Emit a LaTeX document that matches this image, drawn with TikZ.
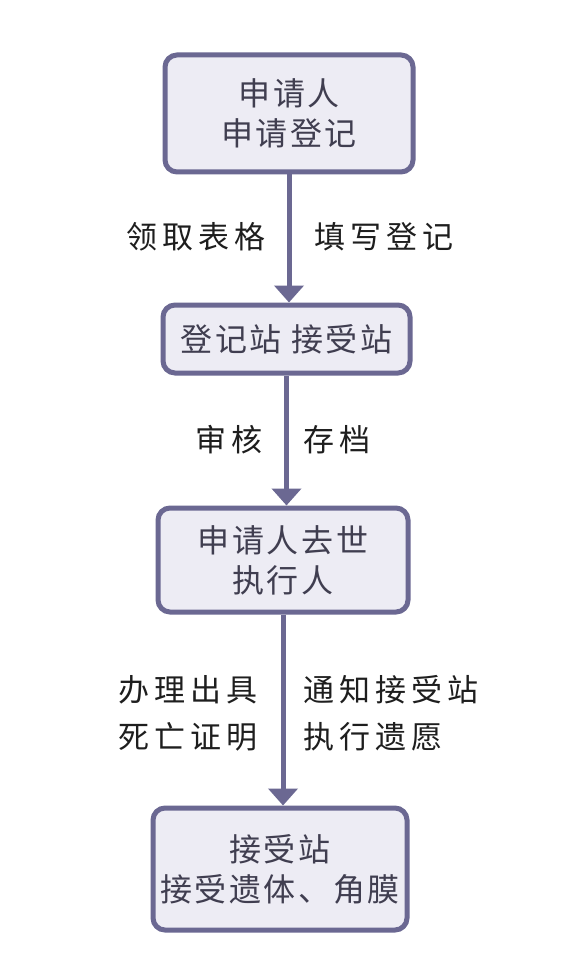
\documentclass[tikz,border=0pt]{standalone}
\usepackage{fontspec}
\setmainfont{Noto Sans CJK SC}
\newfontfamily\boxfont[LetterSpace=8]{Noto Sans CJK SC}
\newfontfamily\labfont[LetterSpace=16]{Noto Sans CJK SC}
\usetikzlibrary{arrows.meta}
\definecolor{bord}{HTML}{6B6892}
\definecolor{boxfill}{HTML}{EDECF4}
\definecolor{boxtext}{HTML}{403E50}
\definecolor{labtext}{HTML}{1E1E1E}
\tikzset{
  flowbox/.style={draw=bord, line width=5pt, fill=boxfill, rounded corners=12pt,
    inner sep=0pt, align=center, text=boxtext,
    font=\boxfont\fontsize{32}{40}\selectfont},
  lab/.style={inner sep=0pt, text=labtext, align=left,
    font=\labfont\fontsize{31}{47}\selectfont},
  flowarrow/.style={draw=bord, line width=5pt,
    -{Triangle[width=29pt,length=17pt]}}
}
\begin{document}
\begin{tikzpicture}[x=1pt,y=-1pt]
\useasboundingbox[fill=white] (0,0) rectangle (582,957);
\node[flowbox, minimum width=248pt, minimum height=117pt] (b1) at (289,113.5) {申请人\\申请登记};
\node[flowbox, minimum width=247pt, minimum height=68pt] (b2) at (286.5,339) {登记站 接受站};
\node[flowbox, minimum width=250pt, minimum height=104pt] (b3) at (283,560) {申请人去世\\执行人};
\node[flowbox, minimum width=254pt, minimum height=122pt] (b4) at (280,869) {接受站\\接受遗体、角膜};
\draw[flowarrow] (b1.south) -- (b1.south |- b2.north);
\draw[flowarrow] (b2.south) -- (b2.south |- b3.north);
\draw[flowarrow] (b3.south) -- (b3.south |- b4.north);
\node[lab, anchor=east] (l1) at (266,237) {领取表格};
\node[lab, anchor=west] (r1) at (314,237) {填写登记};
\node[lab, anchor=east] (l2) at (263,440) {审核};
\node[lab, anchor=west] (r2) at (303,440) {存档};
\node[lab, anchor=east] (l3) at (258,713) {办理出具\\死亡证明};
\node[lab, anchor=west] (r3) at (303,713) {通知接受站\\执行遗愿};
\end{tikzpicture}
\end{document}
